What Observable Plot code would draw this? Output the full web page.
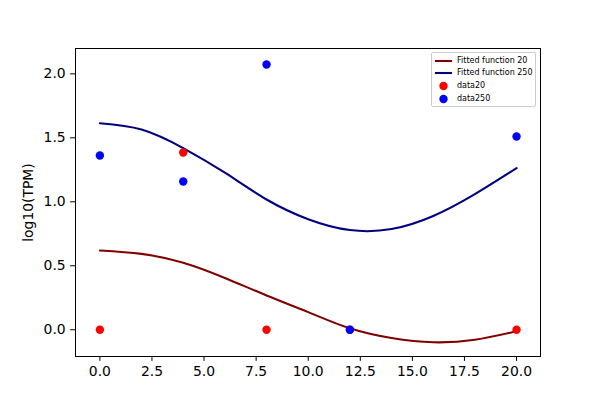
<!DOCTYPE html>
<html>
<head>
<meta charset="utf-8">
<script src="https://cdn.jsdelivr.net/npm/d3@7"></script>
<script src="https://cdn.jsdelivr.net/npm/@observablehq/plot@0.6"></script>
<style>
  html, body { margin: 0; padding: 0; background: #fff; }
  #wrap { position: relative; width: 600px; height: 400px; font-family: "DejaVu Sans", sans-serif; }
  #legend {
    position: absolute; left: 431px; top: 52px; width: 105px; height: 55px;
    border: 1px solid #cccccc; border-radius: 2px; background: rgba(255,255,255,0.8);
    font-size: 8px; color: #000; box-sizing: border-box;
  }
  .row { position: absolute; left: 0; height: 12px; width: 100%; }
  .row svg { position: absolute; left: 2px; top: 0; }
  .row span { position: absolute; left: 25px; top: 1px; line-height: 10px; white-space: nowrap; }
</style>
</head>
<body>
<div id="wrap"></div>
<script>
// Observed sample times and values
const times = [0, 4, 8, 12, 20];
const data20 = [0, 1.385, 0, 0, 0];
const data250 = [1.362, 1.159, 2.073, 0, 1.51];

// Fitted curves at these x positions
const fitX = [0, 2, 4, 6, 8, 10, 12, 14, 16, 18, 20];
const fit20 = [0.62, 0.593, 0.524, 0.405, 0.268, 0.138, 0.011, -0.065, -0.098, -0.078, -0.012];
const fit250 = [1.614, 1.565, 1.42, 1.227, 1.018, 0.864, 0.779, 0.787, 0.889, 1.06, 1.263];

const xTicks = [0, 2.5, 5, 7.5, 10, 12.5, 15, 17.5, 20];
const yTicks = [0, 0.5, 1, 1.5, 2];

const legendItems = [
  {label: "Fitted function 20", kind: "line", color: "#800000"},
  {label: "Fitted function 250", kind: "line", color: "#000080"},
  {label: "data20", kind: "dot", color: "#ff0000"},
  {label: "data250", kind: "dot", color: "#0000ff"}
];

const pts20 = times.map((t, i) => ({x: t, y: data20[i]}));
const pts250 = times.map((t, i) => ({x: t, y: data250[i]}));
const line20 = fitX.map((t, i) => ({x: t, y: fit20[i]}));
const line250 = fitX.map((t, i) => ({x: t, y: fit250[i]}));

const chart = Plot.plot({
  width: 600,
  height: 400,
  marginLeft: 75,
  marginRight: 60,
  marginTop: 48,
  marginBottom: 44,
  style: {fontFamily: "DejaVu Sans, sans-serif", fontSize: "13.9px", color: "#000", background: "#fff"},
  x: {domain: [-1.17, 21.15], label: null},
  y: {domain: [-0.209, 2.198], label: null},
  marks: [
    Plot.axisX({ticks: xTicks, tickFormat: d => d.toFixed(1), tickSize: 4.9, tickPadding: 4.9, label: null, fontSize: 13.9}),
    Plot.axisY({ticks: yTicks, tickFormat: d => d.toFixed(1), tickSize: 4.9, tickPadding: 4.9,
      label: "log10(TPM)", labelAnchor: "center", labelArrow: "none", labelOffset: 52, fontSize: 13.9}),
    Plot.line(line20, {x: "x", y: "y", stroke: "#800000", strokeWidth: 2.08, curve: "natural"}),
    Plot.line(line250, {x: "x", y: "y", stroke: "#000080", strokeWidth: 2.08, curve: "natural"}),
    Plot.dot(pts20, {x: "x", y: "y", r: 4.2, fill: "#ff0000", stroke: "none"}),
    Plot.dot(pts250, {x: "x", y: "y", r: 4.2, fill: "#0000ff", stroke: "none"}),
    Plot.frame({stroke: "#000", strokeWidth: 1})
  ]
});

const wrap = document.getElementById("wrap");
wrap.appendChild(chart);

const legend = document.createElement("div");
legend.id = "legend";
const rowTops = [2, 14, 27, 40];
legendItems.forEach((it, i) => {
  const row = document.createElement("div");
  row.className = "row";
  row.style.top = rowTops[i] + "px";
  const ns = "http://www.w3.org/2000/svg";
  const s = document.createElementNS(ns, "svg");
  s.setAttribute("width", "20");
  s.setAttribute("height", "12");
  if (it.kind === "line") {
    const l = document.createElementNS(ns, "line");
    l.setAttribute("x1", "1"); l.setAttribute("x2", "18");
    l.setAttribute("y1", "6"); l.setAttribute("y2", "6");
    l.setAttribute("stroke", it.color); l.setAttribute("stroke-width", "2.08");
    s.appendChild(l);
  } else {
    const c = document.createElementNS(ns, "circle");
    c.setAttribute("cx", "9.5"); c.setAttribute("cy", "6"); c.setAttribute("r", "4.2");
    c.setAttribute("fill", it.color);
    s.appendChild(c);
  }
  row.appendChild(s);
  const sp = document.createElement("span");
  sp.textContent = it.label;
  row.appendChild(sp);
  legend.appendChild(row);
});
wrap.appendChild(legend);
</script>
</body>
</html>
